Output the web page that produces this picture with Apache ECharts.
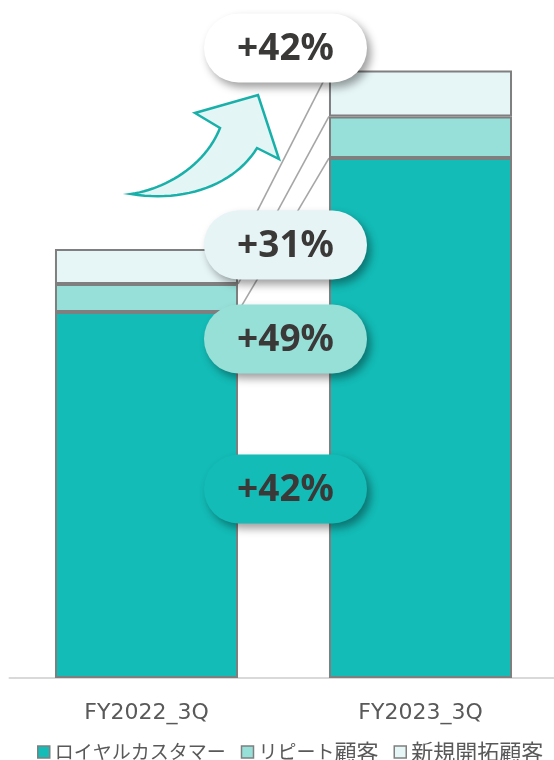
<!DOCTYPE html>
<html>
<head>
<meta charset="utf-8">
<script src="https://cdn.jsdelivr.net/npm/echarts@6/dist/echarts.min.js"></script>
<style>
  html, body { margin: 0; padding: 0; background: #ffffff; overflow: hidden; }
  #chart { width: 560px; height: 760px; }
</style>
</head>
<body>
<div id="chart"></div>
<script>
// Periods compared
const categories = ['FY2022_3Q', 'FY2023_3Q'];
// Customer segments (stack order bottom -> top)
const seriesNames = ['ロイヤルカスタマー', 'リピート顧客', '新規開拓顧客'];
const loyalValues = [100, 142];
const repeatValues = [7.65, 11.4];
const newValues = [9.56, 12.55];

const segColors = ['#13bcb7', '#97e0d9', '#e6f5f6'];
const pillColors = { total: '#ffffff', new: '#e6f4f5', repeat: '#97e0d8', loyal: '#13bcb7' };

const segments = [loyalValues, repeatValues, newValues];

// growth from first to second period, as "+NN%"
function growth(a, b) {
  const pct = Math.round((b / a - 1) * 100);
  return (pct >= 0 ? '+' : '') + pct + '%';
}
const totals = categories.map((_, i) => segments.reduce((s, arr) => s + arr[i], 0));

// cumulative tops of each stacked level, used for connector lines
const connectorData = [];
let c0 = 0, c1 = 0;
segments.forEach(arr => {
  c0 += arr[0]; c1 += arr[1];
  connectorData.push([0, c0, c1]);
});

// sample a cubic bezier into points
function cubic(p0, p1, p2, p3, n) {
  const pts = [];
  for (let i = 0; i <= n; i++) {
    const t = i / n, u = 1 - t;
    pts.push([
      u * u * u * p0[0] + 3 * u * u * t * p1[0] + 3 * u * t * t * p2[0] + t * t * t * p3[0],
      u * u * u * p0[1] + 3 * u * u * t * p1[1] + 3 * u * t * t * p2[1] + t * t * t * p3[1]
    ]);
  }
  return pts;
}
// curved "growth" arrow outline
const arrowPoints = [].concat(
  cubic([131, 194], [165, 189], [205, 166], [220, 128], 24),
  [[195, 113], [258, 95], [279, 159]],
  cubic([257, 148], [235, 184], [186, 203], [131, 194], 24)
);

// legend text: kanji runs a touch wider than kana runs
function legendRich(name) {
  const runs = name.match(/[\u4e00-\u9fff]+|[^\u4e00-\u9fff]+/g) || [];
  return runs.map(r => (/[\u4e00-\u9fff]/.test(r) ? '{j|' : '{k|') + r + '}').join('');
}

const BAR_RATIO = 0.668;
const chart = echarts.init(document.getElementById('chart'), null, { renderer: 'canvas' });

const barSeries = seriesNames.map((name, k) => ({
  name: name,
  type: 'bar',
  stack: 'total',
  barWidth: (BAR_RATIO * 100) + '%',
  data: segments[k],
  itemStyle: { color: segColors[k], borderColor: '#7f7f7f', borderWidth: 2 },
  emphasis: { disabled: true },
  z: 3
}));

function pill(cy, fill, text) {
  const w = 163, h = 69, left = 204;
  return {
    type: 'group',
    children: [
      {
        type: 'rect',
        z: 100,
        shape: { x: left, y: cy - h / 2, width: w, height: h, r: h / 2 },
        style: {
          fill: fill,
          shadowBlur: 9,
          shadowOffsetX: 4,
          shadowOffsetY: 5,
          shadowColor: 'rgba(0,0,0,0.38)'
        }
      },
      {
        type: 'text',
        z: 101,
        style: {
          x: left + w / 2,
          y: cy + 1,
          text: text,
          fill: '#3b3838',
          font: 'bold 37px "Noto Sans", sans-serif',
          align: 'center',
          verticalAlign: 'middle'
        }
      }
    ]
  };
}

const cjkFont = '"Noto Sans CJK JP", sans-serif';

const option = {
  animation: false,
  backgroundColor: '#ffffff',
  grid: { left: 9.5, width: 548, top: 19, bottom: 82, containLabel: false },
  legend: {
    data: seriesNames,
    left: 32,
    top: 736,
    icon: 'rect',
    itemWidth: 12,
    itemHeight: 12,
    itemGap: 15,
    formatter: legendRich,
    textStyle: {
      color: '#595959',
      fontSize: 19,
      fontFamily: cjkFont,
      rich: {
        k: { color: '#595959', fontSize: 19, fontFamily: cjkFont, lineHeight: 24 },
        j: { color: '#595959', fontSize: 22, fontFamily: cjkFont, lineHeight: 24 }
      }
    },
    itemStyle: { borderColor: '#7f7f7f', borderWidth: 1.5 },
    selectedMode: false
  },
  xAxis: {
    type: 'category',
    data: categories,
    axisLine: { lineStyle: { color: '#d9d9d9', width: 2 } },
    axisTick: { show: false },
    axisLabel: { color: '#595959', fontSize: 22, fontFamily: '"DejaVu Sans", sans-serif', margin: 24 }
  },
  yAxis: { type: 'value', min: 0, max: 180, show: false, splitLine: { show: false } },
  series: [
    ...barSeries,
    {
      type: 'custom',
      name: 'connector',
      coordinateSystem: 'cartesian2d',
      encode: { x: 0, y: 1 },
      data: connectorData,
      silent: true,
      z: 2,
      renderItem: function (params, api) {
        const p0 = api.coord([0, api.value(1)]);
        const p1 = api.coord([1, api.value(2)]);
        const half = api.size([1, 0])[0] * BAR_RATIO / 2;
        return {
          type: 'line',
          shape: { x1: p0[0] + half, y1: p0[1], x2: p1[0] - half, y2: p1[1] },
          style: { stroke: '#a6a6a6', lineWidth: 1.6 }
        };
      }
    }
  ],
  graphic: [
    {
      type: 'polygon',
      z: 50,
      shape: { points: arrowPoints },
      style: { fill: '#e3f5f5', stroke: '#19b0aa', lineWidth: 2.5, lineJoin: 'miter' }
    },
    pill(48, pillColors.total, growth(totals[0], totals[1])),
    pill(245, pillColors.new, growth(newValues[0], newValues[1])),
    pill(339, pillColors.repeat, growth(repeatValues[0], repeatValues[1])),
    pill(489, pillColors.loyal, growth(loyalValues[0], loyalValues[1]))
  ]
};

chart.setOption(option);
</script>
</body>
</html>
